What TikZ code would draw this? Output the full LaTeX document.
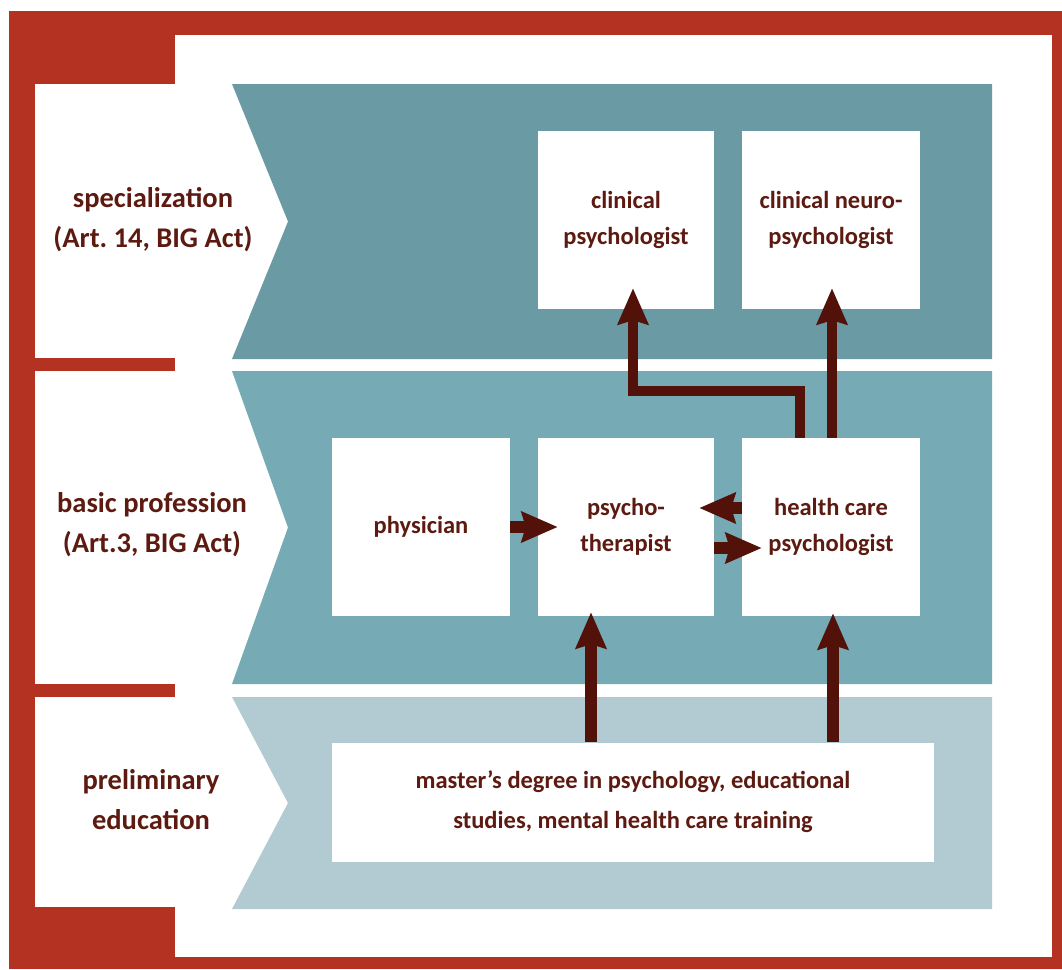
\documentclass[tikz,border=0pt]{standalone}
\usepackage{fontspec}
\setmainfont{Carlito}
\usetikzlibrary{arrows.meta}
\definecolor{frame}{HTML}{B33222}
\definecolor{bandA}{HTML}{6A9BA5}
\definecolor{bandB}{HTML}{76AAB5}
\definecolor{bandC}{HTML}{B2CBD2}
\definecolor{arrc}{HTML}{52120A}
\definecolor{txt}{HTML}{5C1A10}
\tikzset{
  box/.style={fill=white, inner sep=0pt, align=center, text=txt,
    font=\fontsize{24.5}{36}\selectfont\bfseries},
  lbl/.style={inner sep=0pt, align=center, text=txt,
    font=\fontsize{28.5}{40}\selectfont\bfseries},
  arr/.style={draw=arrc, line width=12pt,
    -{Stealth[length=36pt,width=30pt,inset=4pt]}},
  arrthin/.style={draw=arrc, line width=10pt,
    -{Stealth[length=36pt,width=30pt,inset=4pt]}},
}
\begin{document}
\begin{tikzpicture}[x=1pt,y=-1pt]
\useasboundingbox (0,0) rectangle (1062,969);
% frame
\fill[frame] (9,11) rectangle (1062,969);
\fill[white] (175,35) rectangle (1052,957);
\fill[white] (35,84) rectangle (175,358);
\fill[white] (35,371) rectangle (175,684);
\fill[white] (35,697) rectangle (175,907);
% bands
\fill[bandA] (232,84) -- (992,84) -- (992,359) -- (232,359) -- (288,221.5) -- cycle;
\fill[bandB] (232,371) -- (992,371) -- (992,684) -- (232,684) -- (288,527.5) -- cycle;
\fill[bandC] (232,697) -- (992,697) -- (992,909) -- (232,909) -- (288,803) -- cycle;
% labels
\node[lbl] (lspec) at (153,220) {specialization\\(Art.~14, BIG Act)};
\node[lbl] (lbasic) at (152,525) {basic profession\\(Art.3, BIG Act)};
\node[lbl] (lprel) at (151,800) {preliminary\\education};
% boxes
\node[box, minimum width=176pt, minimum height=178pt] (clin) at (626,220) {clinical\\psychologist};
\node[box, minimum width=178pt, minimum height=178pt] (neuro) at (831,220) {clinical neuro-\\psychologist};
\node[box, minimum width=178pt, minimum height=178pt] (phys) at (421,527) {physician};
\node[box, minimum width=176pt, minimum height=178pt] (psy) at (626,527) {psycho-\\therapist};
\node[box, minimum width=178pt, minimum height=178pt] (hcp) at (831,527) {health care\\psychologist};
\node[box, minimum width=602pt, minimum height=119pt, font=\fontsize{24.5}{40}\selectfont\bfseries] (master) at (633,802) {master’s degree in psychology, educational\\studies, mental health care training};
% connectors
\draw[arr] (phys.east) -- ([xshift=20pt]psy.west);
\draw[arr] ([yshift=19pt]hcp.west) -- ([xshift=-15pt,yshift=19pt]psy.east);
\draw[arr] ([yshift=-21pt]psy.east) -- ([xshift=20pt,yshift=-21pt]hcp.west);
\draw[arr] ([xshift=-35pt]psy.south |- master.north) -- ([xshift=-35pt,yshift=4pt]psy.south);
\draw[arr] ([xshift=2pt]hcp.south |- master.north) -- ([xshift=2pt,yshift=3pt]hcp.south);
\draw[arrthin] ([xshift=-31pt]hcp.north) -- ++(0,-47) -| ([xshift=7pt,yshift=21pt]clin.south);
\draw[arrthin] ([xshift=1pt]hcp.north) -- ([xshift=1pt,yshift=21pt]neuro.south);
\end{tikzpicture}
\end{document}
